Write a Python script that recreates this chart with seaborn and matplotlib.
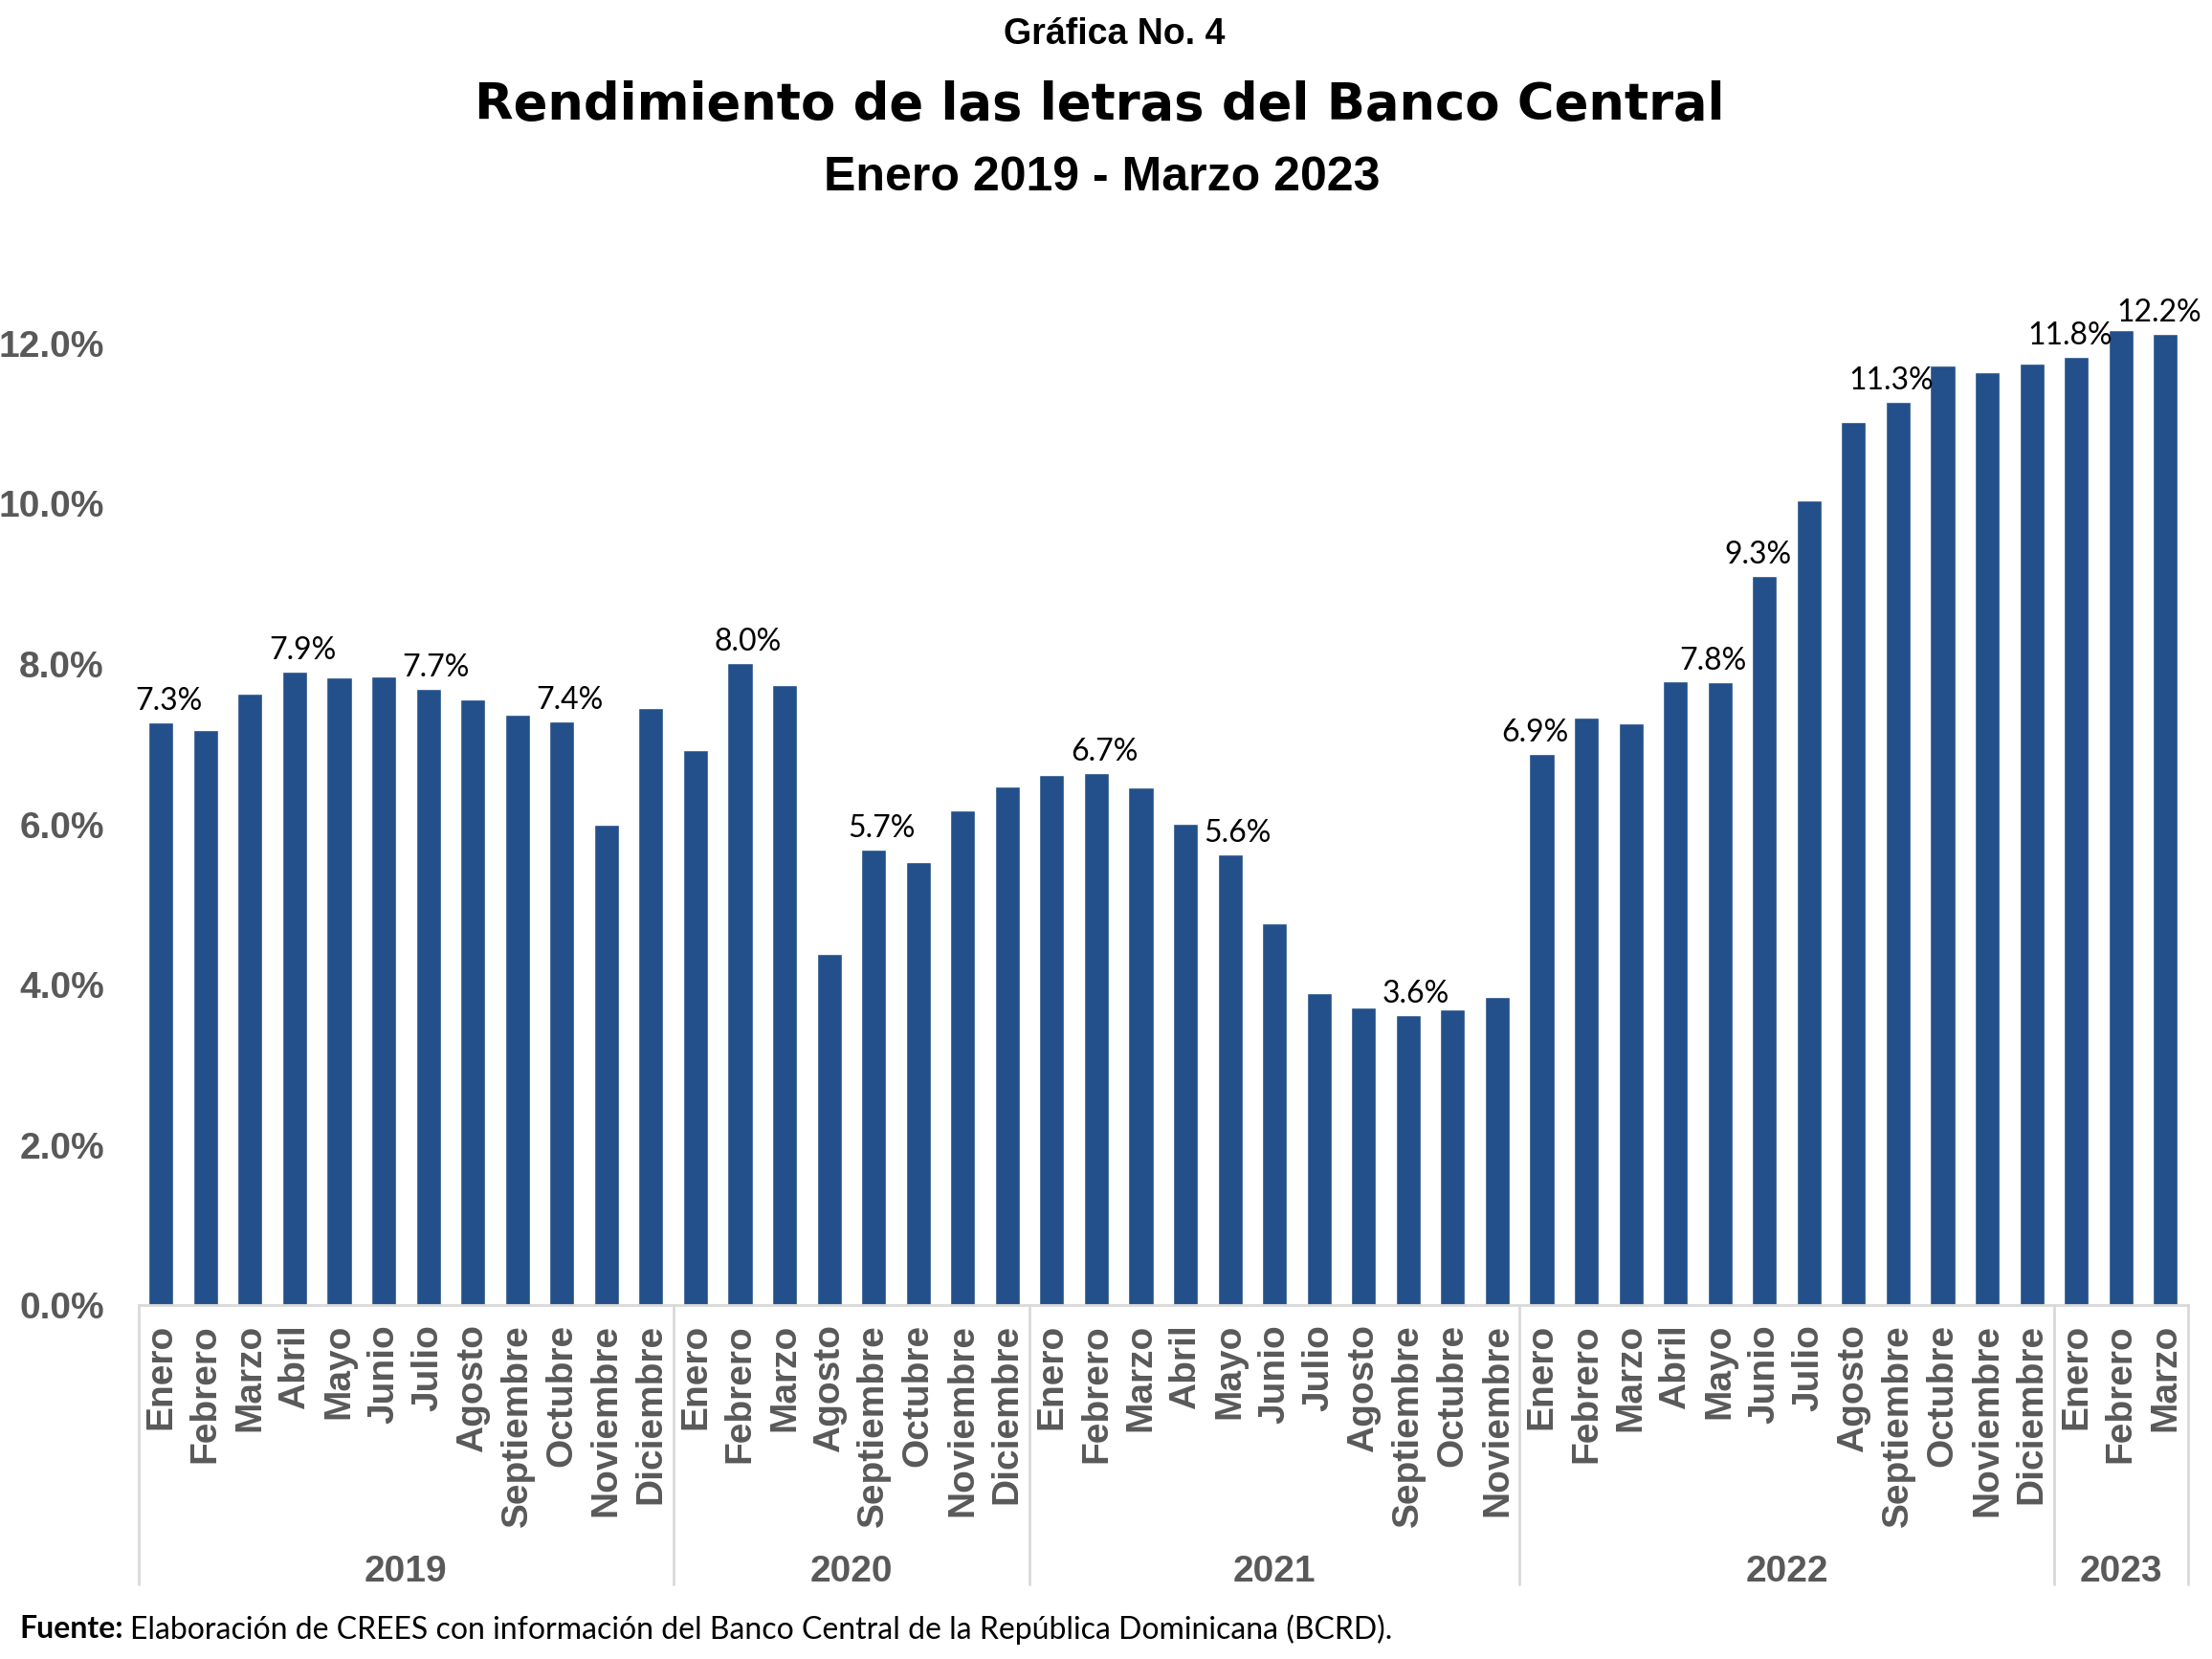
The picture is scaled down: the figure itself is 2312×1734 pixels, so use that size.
import numpy as np
import pandas as pd
import matplotlib
matplotlib.use("Agg")
import matplotlib.pyplot as plt
import seaborn as sns

# ---------------- data ----------------
years = ["2019", "2020", "2021", "2022", "2023"]
months_2019 = ["Enero", "Febrero", "Marzo", "Abril", "Mayo", "Junio", "Julio", "Agosto",
               "Septiembre", "Octubre", "Noviembre", "Diciembre"]
months_2020 = ["Enero", "Febrero", "Marzo", "Agosto", "Septiembre", "Octubre",
               "Noviembre", "Diciembre"]
months_2021 = ["Enero", "Febrero", "Marzo", "Abril", "Mayo", "Junio", "Julio", "Agosto",
               "Septiembre", "Octubre", "Noviembre"]
months_2022 = ["Enero", "Febrero", "Marzo", "Abril", "Mayo", "Junio", "Julio", "Agosto",
               "Septiembre", "Octubre", "Noviembre", "Diciembre"]
months_2023 = ["Enero", "Febrero", "Marzo"]

values_2019 = [7.27, 7.18, 7.63, 7.90, 7.83, 7.84, 7.69, 7.56, 7.37, 7.28, 6.00, 7.45]
values_2020 = [6.93, 8.01, 7.74, 4.38, 5.69, 5.53, 6.18, 6.47]
values_2021 = [6.62, 6.64, 6.46, 6.01, 5.63, 4.77, 3.90, 3.72, 3.62, 3.69, 3.85]
values_2022 = [6.88, 7.33, 7.26, 7.78, 7.77, 9.10, 10.04, 11.02, 11.27, 11.72, 11.64, 11.75]
values_2023 = [11.83, 12.17, 12.12]

# data labels: (year, month index within year, text)
label_year = ["2019", "2019", "2019", "2019", "2020", "2020", "2021", "2021", "2021",
              "2022", "2022", "2022", "2022", "2023", "2023"]
label_month_idx = [0, 3, 6, 9, 1, 4, 1, 4, 8, 0, 4, 5, 8, 0, 2]
label_text = ["7.3%", "7.9%", "7.7%", "7.4%", "8.0%", "5.7%", "6.7%", "5.6%", "3.6%",
              "6.9%", "7.8%", "9.3%", "11.3%", "11.8%", "12.2%"]

yticks = [0, 2, 4, 6, 8, 10, 12]

# ---------------- build table ----------------
months_by_year = [months_2019, months_2020, months_2021, months_2022, months_2023]
values_by_year = [values_2019, values_2020, values_2021, values_2022, values_2023]
rows = []
for y, ms, vs in zip(years, months_by_year, values_by_year):
    for m, v in zip(ms, vs):
        rows.append({"year": y, "month": m, "value": v})
df = pd.DataFrame(rows)
df["pos"] = np.arange(len(df))
year_start = {}
for i, y in enumerate(df["year"]):
    year_start.setdefault(y, i)

# ---------------- plot ----------------
sns.set_theme(style="white")
plt.rcParams["font.family"] = ["Liberation Sans", "DejaVu Sans"]
plt.rcParams["text.color"] = "black"

W, H = 2312, 1734
fig = plt.figure(figsize=(W / 100, H / 100), dpi=100)
ax = fig.add_axes([0.0627, 0.2131, 0.9263, 0.6283])

bar_color = "#23508A"
sns.barplot(data=df, x="pos", y="value", color=bar_color, width=0.56,
            saturation=1, ax=ax, order=list(df["pos"]))

n = len(df)
ax.set_xlim(-0.5, n - 0.5)
ax.set_ylim(0, 13)

gray = "#595959"
ax.set_yticks(yticks)
ax.set_yticklabels([f"{t:.1f}%" for t in yticks], fontsize=28, fontweight="bold",
                   color=gray)
ax.set_xticks(df["pos"])
ax.set_xticklabels(df["month"], rotation=90, fontsize=28, fontweight="bold",
                   color=gray, va="top", ha="center")
ax.tick_params(axis="both", length=0)
ax.tick_params(axis="x", pad=14)
ax.tick_params(axis="y", pad=26)
ax.set_xlabel("")
ax.set_ylabel("")

for s in ["top", "right", "left"]:
    ax.spines[s].set_visible(False)
ax.spines["bottom"].set_color("#D9D9D9")
ax.spines["bottom"].set_linewidth(2)
ax.grid(False)

# group separators and year labels
sep_bottom = -0.2675
bounds = [year_start[y] - 0.5 for y in years] + [n - 0.5]
for b in bounds:
    ax.plot([b, b], [0, sep_bottom], transform=ax.get_xaxis_transform(),
            color="#D9D9D9", lw=2, clip_on=False)
for i, y in enumerate(years):
    c = (bounds[i] + bounds[i + 1]) / 2
    ax.text(c, -0.256, y, transform=ax.get_xaxis_transform(), ha="center",
            va="center", fontsize=28, fontweight="bold", color=gray)

# data labels
for y, mi, t in zip(label_year, label_month_idx, label_text):
    p = year_start[y] + mi
    v = df.loc[p, "value"]
    dx = 6 if p < 30 else -5
    ax.annotate(t, (p, v), xytext=(dx, 5), textcoords="offset points", ha="center",
                va="bottom", fontsize=23, family=["Lato", "DejaVu Sans"], color="black")

# titles
fig.text(0.504, 0.979, "Gráfica No. 4", ha="center", va="center", fontsize=27,
         fontweight="bold", color="black", family=["Liberation Sans", "DejaVu Sans"])
fig.text(0.497, 0.9365, "Rendimiento de las letras del Banco Central", ha="center",
         va="center", fontsize=38, fontweight="bold", color="black",
         family=["DejaVu Sans"])
fig.text(0.498, 0.8925, "Enero 2019 - Marzo 2023", ha="center", va="center",
         fontsize=36, fontweight="bold", color="black",
         family=["Liberation Sans", "DejaVu Sans"])

# footer
t1 = fig.text(0.009, 0.018, "Fuente:", ha="left", va="center", fontsize=23,
              fontweight="bold", color="black", family=["Lato", "DejaVu Sans"])
fig.canvas.draw()
bb = t1.get_window_extent(renderer=fig.canvas.get_renderer())
x2 = bb.x1 / fig.bbox.width + 0.003
fig.text(x2, 0.018, "Elaboración de CREES con información del Banco Central de la República Dominicana (BCRD).",
         ha="left", va="center", fontsize=23, color="black", family=["Lato", "DejaVu Sans"])

fig.savefig("out.png", dpi=100)
